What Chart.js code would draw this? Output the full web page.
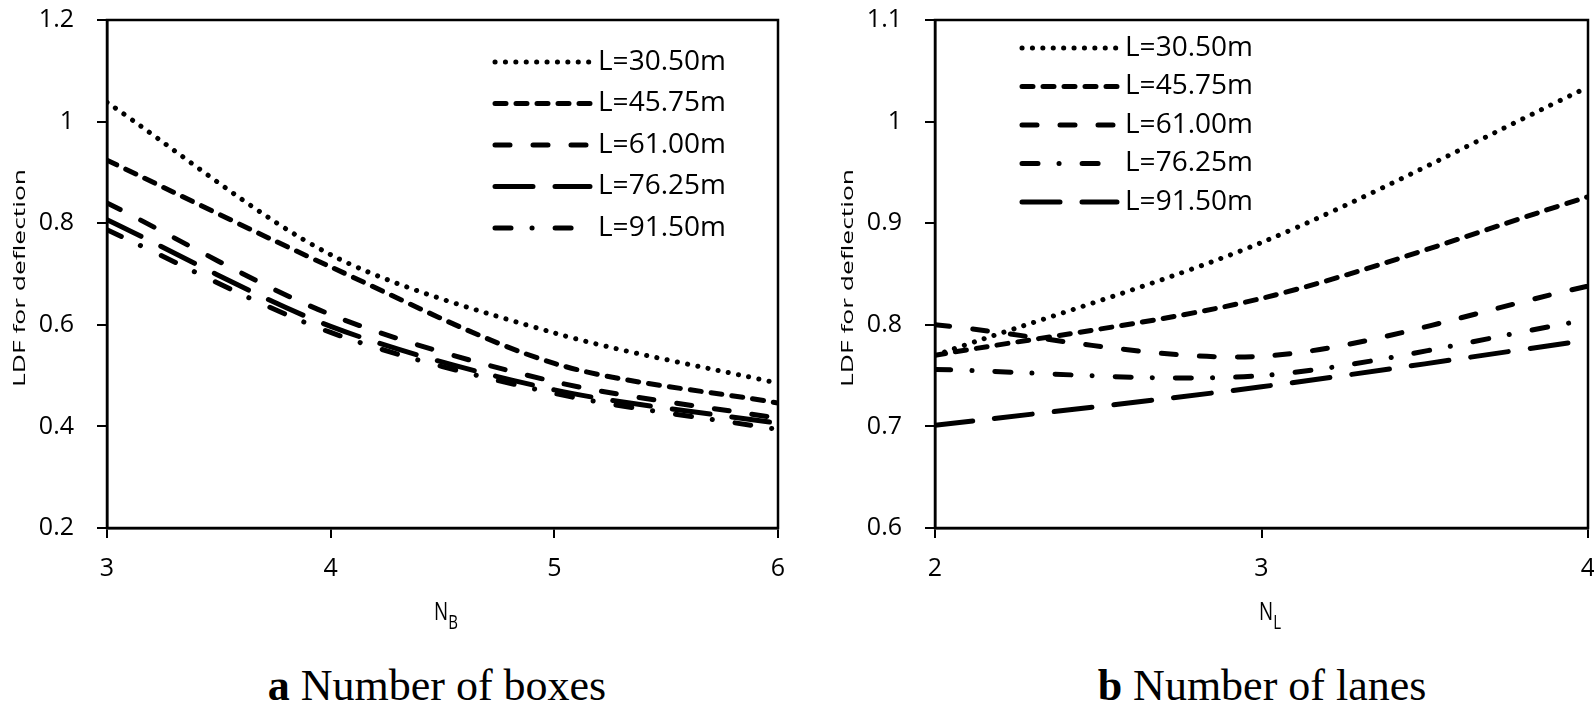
<!DOCTYPE html>
<html>
<head>
<meta charset="utf-8">
<script src="https://cdn.jsdelivr.net/npm/chart.js@4.4.0/dist/chart.umd.min.js"></script>
<style>
  body { margin: 0; background: #fff; }
  #page { position: relative; width: 1594px; height: 712px; overflow: hidden; background: #fff; }
  .box { position: absolute; top: 0; height: 600px; }
  .ytitle { position: absolute; font-family: 'Open Sans'; font-size: 16px; color: #000; white-space: nowrap; line-height: 1;
            transform: translate(-50%, -50%) rotate(-90deg) scaleX(1.65); }
  .xlabel { position: absolute; font-family: 'Open Sans'; font-size: 25px; color: #000; white-space: nowrap; line-height: 1;
            transform: translateX(-50%) scaleX(0.75); }
  .xlabel sub { font-size: 20px; vertical-align: -9px; }
  .caption { position: absolute; font-family: 'Liberation Serif', 'Times New Roman', serif; font-size: 44px; color: #000;
             transform: translateX(-50%); white-space: nowrap; line-height: 1; }
</style>
</head>
<body>
<div id="page">
  <div class="box" style="left:0;width:797px"><canvas id="chart-boxes" width="797" height="600"></canvas></div>
  <div class="box" style="left:828px;width:766px"><canvas id="chart-lanes" width="766" height="600"></canvas></div>
  <div class="ytitle" style="left:19px;top:278px">LDF for deflection</div>
  <div class="ytitle" style="left:847px;top:278px">LDF for deflection</div>
  <div class="xlabel" style="left:446px;top:598px">N<sub>B</sub></div>
  <div class="xlabel" style="left:1270px;top:598px">N<sub>L</sub></div>
  <div class="caption" style="left:437px;top:664px"><b>a</b> Number of boxes</div>
  <div class="caption" style="left:1262px;top:664px"><b>b</b> Number of lanes</div>
</div>
<script>
// (a) number of boxes
const boxCounts = [3, 4, 5, 6];
const boxTicksY = [0.2, 0.4, 0.6, 0.8, 1, 1.2];
const boxL30 = [1.038, 0.738, 0.584, 0.485];
const boxL45 = [0.924, 0.714, 0.524, 0.446];
const boxL61 = [0.840, 0.620, 0.488, 0.416];
const boxL76 = [0.807, 0.597, 0.472, 0.406];
const boxL91 = [0.787, 0.585, 0.465, 0.394];

// (b) number of lanes
const laneCounts = [2, 3, 4];
const laneTicksY = [0.6, 0.7, 0.8, 0.9, 1, 1.1];
const laneL30 = [0.770, 0.881, 1.034];
const laneL45 = [0.770, 0.826, 0.926];
const laneL61 = [0.800, 0.769, 0.838];
const laneL76 = [0.756, 0.750, 0.805];
const laneL91 = [0.701, 0.739, 0.785];

const spanNames = ['L=30.50m', 'L=45.75m', 'L=61.00m', 'L=76.25m', 'L=91.50m'];

const dashes = {
    dot: [0.1, 10.3],
    short: [11, 10],
    medium: [15, 23],
    long: [38, 22],
    dashdot: [16, 21, 0.1, 23],
};

Chart.defaults.font.family = 'Open Sans';
Chart.defaults.color = '#000';

const insideLegend = {
    id: 'insideLegend',
    afterDatasetsDraw(chart, args, opts) {
        const ctx = chart.ctx;
        ctx.save();
        chart.data.datasets.forEach((ds, i) => {
            const y = opts.y + i * opts.gap;
            ctx.beginPath();
            ctx.setLineDash(ds.borderDash);
            ctx.lineCap = 'round';
            ctx.lineWidth = ds.borderWidth;
            ctx.strokeStyle = '#000';
            ctx.moveTo(opts.x, y);
            ctx.lineTo(opts.x + opts.len, y);
            ctx.stroke();
            ctx.setLineDash([]);
            ctx.fillStyle = '#000';
            ctx.font = '28px "Open Sans"';
            ctx.textBaseline = 'middle';
            ctx.fillText(ds.label, opts.x + opts.len + 8, y);
        });
        ctx.restore();
    }
};

const frame = {
    id: 'frame',
    afterDraw(chart) {
        const {ctx, chartArea: a} = chart;
        ctx.save();
        ctx.strokeStyle = '#000';
        ctx.lineWidth = 2.5;
        ctx.strokeRect(a.left, a.top, a.right - a.left, a.bottom - a.top);
        ctx.restore();
    }
};

function makeChart(canvasId, xs, seriesList, styles, yTicks, padRight, legendOpts) {
    const ctx = document.getElementById(canvasId).getContext('2d');
    return new Chart(ctx, {
        type: 'line',
        data: {
            datasets: seriesList.map((vals, i) => ({
                label: spanNames[i],
                data: vals.map((v, j) => ({x: xs[j], y: v})),
                borderColor: '#000',
                borderWidth: 5,
                borderDash: dashes[styles[i]],
                borderCapStyle: 'round',
                borderJoinStyle: 'round',
                pointRadius: 0,
                tension: 0.3,
                fill: false,
            })),
        },
        options: {
            responsive: false,
            animation: false,
            layout: {padding: {top: 20, right: padRight, left: 0, bottom: 0}},
            plugins: {
                legend: {display: false},
                tooltip: {enabled: false},
                insideLegend: legendOpts,
            },
            scales: {
                x: {
                    type: 'linear',
                    min: xs[0],
                    max: xs[xs.length - 1],
                    afterBuildTicks: (scale) => { scale.ticks = xs.map(v => ({value: v})); },
                    afterFit: (scale) => { scale.height = 72; scale.paddingLeft = 0; scale.paddingRight = 0; },
                    grid: {drawOnChartArea: false, tickLength: 10, color: '#000', lineWidth: 2},
                    border: {display: true, color: '#000', width: 2.5},
                    ticks: {font: {size: 25}, padding: 16, maxRotation: 0, callback: v => String(v)},
                },
                y: {
                    min: yTicks[0],
                    max: yTicks[yTicks.length - 1],
                    afterBuildTicks: (scale) => { scale.ticks = yTicks.map(v => ({value: v})); },
                    afterFit: (scale) => { scale.width = 107; scale.paddingTop = 0; scale.paddingBottom = 0; },
                    grid: {drawOnChartArea: false, tickLength: 10, color: '#000', lineWidth: 2},
                    border: {display: true, color: '#000', width: 2.5},
                    ticks: {font: {size: 25}, padding: 23, callback: v => String(v)},
                },
            },
        },
        plugins: [insideLegend, frame],
    });
}

makeChart('chart-boxes', boxCounts,
    [boxL30, boxL45, boxL61, boxL76, boxL91],
    ['dot', 'short', 'medium', 'long', 'dashdot'],
    boxTicksY, 19, {x: 495, y: 62, gap: 41.5, len: 95});

makeChart('chart-lanes', laneCounts,
    [laneL30, laneL45, laneL61, laneL76, laneL91],
    ['dot', 'short', 'medium', 'dashdot', 'long'],
    laneTicksY, 6, {x: 194, y: 48, gap: 38.5, len: 95});
</script>
</body>
</html>
